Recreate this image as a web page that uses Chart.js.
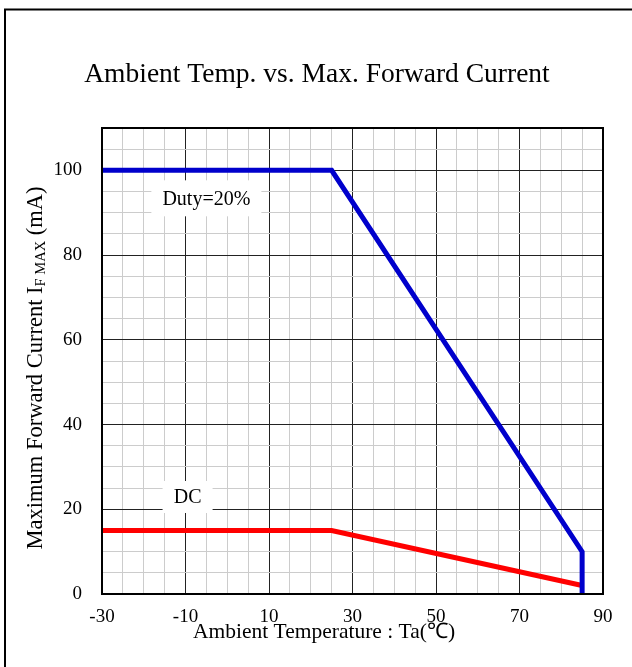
<!DOCTYPE html>
<html>
<head>
<meta charset="utf-8">
<script src="https://cdn.jsdelivr.net/npm/chart.js@4"></script>
<style>
  html, body { margin: 0; padding: 0; background: #fff; }
  #wrap { width: 632px; height: 667px; }
</style>
</head>
<body>
<div id="wrap"><canvas id="chart" width="632" height="667"></canvas></div>
<script>
// ------------------------------
// DATA
// ------------------------------
const dutyTemps = [-30, 25, 85, 85];
const dutyCurrent = [100, 100, 10, 0];

const dcTemps = [-30, 25, 85];
const dcCurrent = [15, 15, 2];

const xTickLabels = [-30, -10, 10, 30, 50, 70, 90];
const yTickLabels = [0, 20, 40, 60, 80, 100];

const chartTitle = "Ambient Temp. vs. Max. Forward Current";
const xTitle = "Ambient Temperature : Ta(\u2103)";

// label boxes placed in data units
const seriesLabels = [
    { text: "Duty=20%", x: -5, y: 93.4, w: 110, h: 36 },
    { text: "DC", x: -9.5, y: 22.9, w: 50, h: 32 }
];

const FONT = "'Liberation Serif', 'Times New Roman', serif";

// ------------------------------
// PLUGIN: border, titles, labels
// ------------------------------
const decorations = {
    id: "decorations",
    beforeDraw(chart) {
        const ctx = chart.ctx;
        ctx.save();
        ctx.fillStyle = "#fff";
        ctx.fillRect(0, 0, chart.width, chart.height);
        ctx.restore();
    },
    afterDatasetsDraw(chart) {
        const ctx = chart.ctx;
        const area = chart.chartArea;
        const xs = chart.scales.x;
        const ys = chart.scales.y;

        ctx.save();

        // plot frame
        ctx.strokeStyle = "#000";
        ctx.lineWidth = 2;
        ctx.strokeRect(area.left, area.top, area.right - area.left, area.bottom - area.top);

        // white label boxes
        ctx.font = "20px " + FONT;
        ctx.textAlign = "center";
        ctx.textBaseline = "middle";
        seriesLabels.forEach(l => {
            const cx = xs.getPixelForValue(l.x);
            const cy = ys.getPixelForValue(l.y);
            ctx.fillStyle = "#fff";
            ctx.fillRect(cx - l.w / 2, cy - l.h / 2, l.w, l.h);
            ctx.fillStyle = "#000";
            ctx.fillText(l.text, cx, cy + 1);
        });

        // outer frame
        ctx.lineWidth = 2;
        ctx.strokeRect(5, 9.5, 800, 800);

        // chart title
        ctx.font = "27.5px " + FONT;
        ctx.fillText(chartTitle, 317, 75);

        // x axis title
        ctx.font = "21.5px " + FONT;
        ctx.fillText(xTitle, 324, 632);

        // y axis title with subscript
        ctx.translate(34, 368);
        ctx.rotate(-Math.PI / 2);
        const main = "Maximum Forward Current I";
        const sub = "F MAX";
        const tail = " (mA)";
        ctx.font = "22.5px " + FONT;
        const wMain = ctx.measureText(main).width;
        const wTail = ctx.measureText(tail).width;
        ctx.font = "14.5px " + FONT;
        const wSub = ctx.measureText(sub).width;
        let x0 = -(wMain + wSub + wTail) / 2;
        ctx.textAlign = "left";
        ctx.textBaseline = "alphabetic";
        ctx.font = "22.5px " + FONT;
        ctx.fillText(main, x0, 8);
        ctx.font = "14.5px " + FONT;
        ctx.fillText(sub, x0 + wMain, 11);
        ctx.font = "22.5px " + FONT;
        ctx.fillText(tail, x0 + wMain + wSub, 8);

        ctx.restore();
    }
};

// ------------------------------
// CHART
// ------------------------------
const toPoints = (xs, ys) => xs.map((x, i) => ({ x: x, y: ys[i] }));

const ctx = document.getElementById("chart").getContext("2d");

new Chart(ctx, {
    type: "scatter",
    data: {
        datasets: [
            {
                label: "Duty=20%",
                data: toPoints(dutyTemps, dutyCurrent),
                showLine: true,
                borderColor: "#0000cc",
                borderWidth: 5,
                pointRadius: 0,
                fill: false,
                order: 1
            },
            {
                label: "DC",
                data: toPoints(dcTemps, dcCurrent),
                showLine: true,
                borderColor: "#ff0000",
                borderWidth: 5,
                pointRadius: 0,
                fill: false,
                order: 2
            }
        ]
    },
    options: {
        responsive: false,
        animation: false,
        layout: { padding: { top: 128, left: 0, right: 29, bottom: 0 } },
        plugins: {
            legend: { display: false },
            tooltip: { enabled: false }
        },
        scales: {
            x: {
                type: "linear",
                min: -30,
                max: 90,
                afterFit: s => { s.height = 73; },
                afterBuildTicks: s => {
                    s.ticks = [];
                    for (let v = -30; v <= 90; v += 5) s.ticks.push({ value: v });
                },
                border: { display: false },
                grid: {
                    drawTicks: false,
                    lineWidth: 1,
                    color: c => ((c.tick.value + 30) % 20 === 0 ? "#222" : "#cccccc")
                },
                ticks: {
                    color: "#000",
                    padding: 12,
                    autoSkip: false,
                    maxRotation: 0,
                    font: { family: FONT, size: 19 },
                    callback: v => (xTickLabels.includes(v) ? String(v) : "")
                }
            },
            y: {
                type: "linear",
                min: 0,
                max: 110,
                afterFit: s => { s.width = 102; },
                afterBuildTicks: s => {
                    s.ticks = [];
                    for (let v = 0; v <= 110; v += 5) s.ticks.push({ value: v });
                },
                border: { display: false },
                grid: {
                    drawTicks: false,
                    lineWidth: 1,
                    color: c => (c.tick.value % 20 === 0 ? "#222" : "#cccccc")
                },
                ticks: {
                    color: "#000",
                    padding: 20,
                    autoSkip: false,
                    font: { family: FONT, size: 19 },
                    callback: v => (yTickLabels.includes(v) ? String(v) : "")
                }
            }
        }
    },
    plugins: [decorations]
});
</script>
</body>
</html>
